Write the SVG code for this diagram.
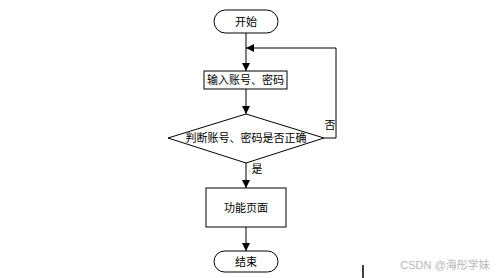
<svg xmlns="http://www.w3.org/2000/svg" width="500" height="278" viewBox="0 0 500 278">
<style>
.s{fill:#fff;stroke:#000;stroke-width:1}
.t{font-family:"Liberation Sans","Noto Sans CJK SC",sans-serif;font-size:11px;fill:#000;text-anchor:middle;dominant-baseline:central}
.c{fill:none;stroke:#000;stroke-width:1}
</style>
<defs>
<marker id="a" markerWidth="8" markerHeight="8" refX="8" refY="4" orient="auto" markerUnits="userSpaceOnUse" viewBox="0 0 8 8">
<path d="M0,0 L8,4 L0,8 Z" fill="#000"/>
</marker>
</defs>
<rect width="500" height="278" fill="#fff"/>
<g id="connectors">
<line class="c" x1="246" y1="33" x2="246" y2="71" marker-end="url(#a)"/>
<line class="c" x1="246" y1="89" x2="246" y2="114" marker-end="url(#a)"/>
<polyline class="c" points="324,138 336,138 336,48 246,48" marker-end="url(#a)"/>
<line class="c" x1="246" y1="163" x2="246" y2="188" marker-end="url(#a)"/>
<line class="c" x1="246" y1="227" x2="246" y2="251" marker-end="url(#a)"/>
<text class="t" x="330" y="125">否</text>
<text class="t" x="257" y="169">是</text>
</g>
<g id="start">
<rect class="s" x="214" y="10" width="64" height="23" rx="11.5"/>
<text class="t" x="246" y="21.5">开始</text>
</g>
<g id="input">
<rect class="s" x="204" y="71" width="83" height="18"/>
<text class="t" x="245.5" y="80">输入账号、密码</text>
</g>
<g id="check">
<polygon class="s" points="246,114 324,138 246,163 168,138"/>
<text class="t" x="246" y="138">判断账号、密码是否正确</text>
</g>
<g id="func">
<rect class="s" x="206" y="188" width="80" height="39"/>
<text class="t" x="246" y="207.5">功能页面</text>
</g>
<g id="end">
<rect class="s" x="214" y="251" width="64" height="21" rx="10.5"/>
<text class="t" x="246" y="261.5">结束</text>
</g>
<line x1="363" y1="265" x2="363" y2="278" stroke="#000" stroke-width="1.5"/>
<text x="445" y="265" font-family="Liberation Sans,'Noto Sans CJK SC',sans-serif" font-size="11" fill="#b8b8b8" text-anchor="middle" dominant-baseline="central">CSDN @海彤学妹</text>
</svg>
